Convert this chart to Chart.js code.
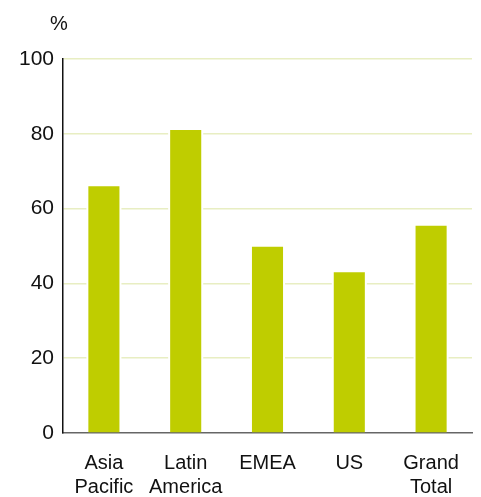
<!DOCTYPE html>
<html lang="en">
<head>
    <meta charset="UTF-8">
    <title>Regional share</title>
    <script src="https://cdn.jsdelivr.net/npm/chart.js"></script>
    <style>
        html, body { margin: 0; padding: 0; background: #ffffff; }
        #wrap { width: 481px; height: 497px; }
    </style>
</head>
<body>
    <div id="wrap"><canvas id="barChart" width="481" height="497"></canvas></div>
    <script>
        // data
        const categories = [["Asia", "Pacific"], ["Latin", "America"], "EMEA", "US", ["Grand", "Total"]];
        const shares = [66, 81, 49.8, 43, 55.4];
        const yTicks = [0, 20, 40, 60, 80, 100];

        const FONT = "'Liberation Sans', Arial, Helvetica, sans-serif";

        // the "%" unit above the y axis
        const unitLabel = {
            id: 'unitLabel',
            afterDraw(chart) {
                const ctx = chart.ctx;
                ctx.save();
                ctx.font = "20px " + FONT;
                ctx.fillStyle = "#111111";
                ctx.textAlign = "center";
                ctx.textBaseline = "alphabetic";
                ctx.fillText("%", 59, 30);
                ctx.restore();
            }
        };

        // white halo round each bar, so gridlines stop short of it
        const barHalo = {
            id: 'barHalo',
            beforeDatasetsDraw(chart) {
                const ctx = chart.ctx;
                ctx.save();
                ctx.fillStyle = '#ffffff';
                chart.getDatasetMeta(0).data.forEach(bar => {
                    const w = bar.width;
                    ctx.fillRect(bar.x - w / 2 - 2, bar.y - 2, w + 4, bar.base - bar.y + 1);
                });
                ctx.restore();
            }
        };

        new Chart(document.getElementById('barChart'), {
            type: 'bar',
            data: {
                labels: categories,
                datasets: [{
                    data: shares,
                    backgroundColor: '#bfcd00',
                    borderWidth: 0,
                    barPercentage: 0.38,
                    categoryPercentage: 1
                }]
            },
            options: {
                responsive: false,
                animation: false,
                layout: { padding: { top: 59, right: 9, left: 0, bottom: 0 } },
                plugins: {
                    legend: { display: false },
                    tooltip: { enabled: false }
                },
                scales: {
                    x: {
                        grid: { display: false, drawTicks: false },
                        border: { color: '#666666', width: 1.5 },
                        ticks: {
                            color: '#111111',
                            font: { family: FONT, size: 20, lineHeight: 1.2 },
                            padding: 18,
                            maxRotation: 0,
                            autoSkip: false
                        },
                        afterFit(scale) { scale.height = 64; }
                    },
                    y: {
                        min: 0,
                        max: 100,
                        afterBuildTicks(scale) {
                            scale.ticks = yTicks.map(v => ({ value: v }));
                        },
                        grid: {
                            drawTicks: false,
                            color: ctx => ctx.tick && ctx.tick.value === 0 ? 'rgba(0,0,0,0)' : '#e8eec2',
                            lineWidth: 1.5
                        },
                        border: { color: '#111111', width: 1.5 },
                        ticks: {
                            color: '#111111',
                            font: { family: FONT, size: 21 },
                            padding: 9
                        },
                        afterFit(scale) { scale.width = 63; }
                    }
                }
            },
            plugins: [unitLabel, barHalo]
        });
    </script>
</body>
</html>
